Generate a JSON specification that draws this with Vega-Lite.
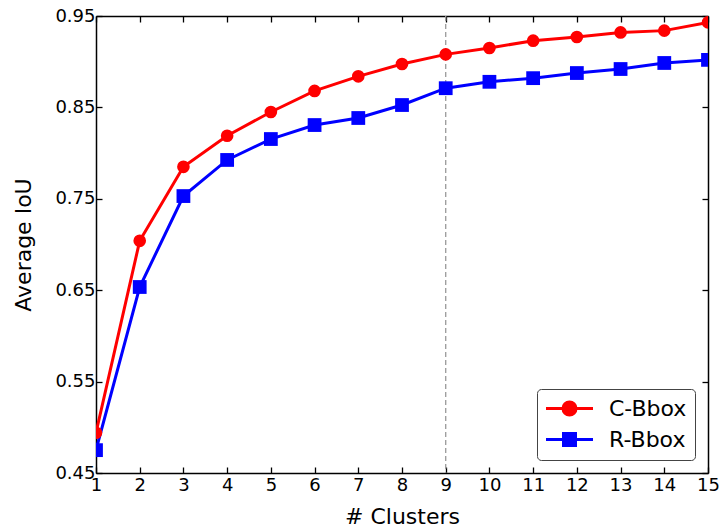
{
  "$schema": "https://vega.github.io/schema/vega-lite/v6.json",
  "width": 612,
  "height": 457,
  "autosize": {"type": "none"},
  "padding": {"left": 96, "top": 16, "right": 14, "bottom": 59},
  "background": "white",
  "config": {
    "view": {"stroke": null},
    "font": "DejaVu Sans",
    "axis": {
      "domainColor": "black", "domainWidth": 1.5, "tickColor": "black", "tickWidth": 1.3,
      "tickSize": -6, "labelFontSize": 18, "labelColor": "black", "titleFontSize": 22,
      "titleColor": "black", "titleFontWeight": "normal", "grid": false, "labelFont": "DejaVu Sans", "titleFont": "DejaVu Sans"
    }
  },
  "data": {"values": [
    {"clusters": 1, "iou": 0.494, "method": "C-Bbox"},
    {"clusters": 2, "iou": 0.704, "method": "C-Bbox"},
    {"clusters": 3, "iou": 0.785, "method": "C-Bbox"},
    {"clusters": 4, "iou": 0.819, "method": "C-Bbox"},
    {"clusters": 5, "iou": 0.845, "method": "C-Bbox"},
    {"clusters": 6, "iou": 0.868, "method": "C-Bbox"},
    {"clusters": 7, "iou": 0.884, "method": "C-Bbox"},
    {"clusters": 8, "iou": 0.8975, "method": "C-Bbox"},
    {"clusters": 9, "iou": 0.908, "method": "C-Bbox"},
    {"clusters": 10, "iou": 0.915, "method": "C-Bbox"},
    {"clusters": 11, "iou": 0.923, "method": "C-Bbox"},
    {"clusters": 12, "iou": 0.927, "method": "C-Bbox"},
    {"clusters": 13, "iou": 0.932, "method": "C-Bbox"},
    {"clusters": 14, "iou": 0.934, "method": "C-Bbox"},
    {"clusters": 15, "iou": 0.943, "method": "C-Bbox"},
    {"clusters": 1, "iou": 0.475, "method": "R-Bbox"},
    {"clusters": 2, "iou": 0.6535, "method": "R-Bbox"},
    {"clusters": 3, "iou": 0.753, "method": "R-Bbox"},
    {"clusters": 4, "iou": 0.7925, "method": "R-Bbox"},
    {"clusters": 5, "iou": 0.8154, "method": "R-Bbox"},
    {"clusters": 6, "iou": 0.8307, "method": "R-Bbox"},
    {"clusters": 7, "iou": 0.8384, "method": "R-Bbox"},
    {"clusters": 8, "iou": 0.8526, "method": "R-Bbox"},
    {"clusters": 9, "iou": 0.871, "method": "R-Bbox"},
    {"clusters": 10, "iou": 0.878, "method": "R-Bbox"},
    {"clusters": 11, "iou": 0.882, "method": "R-Bbox"},
    {"clusters": 12, "iou": 0.8876, "method": "R-Bbox"},
    {"clusters": 13, "iou": 0.892, "method": "R-Bbox"},
    {"clusters": 14, "iou": 0.8986, "method": "R-Bbox"},
    {"clusters": 15, "iou": 0.902, "method": "R-Bbox"}
  ]},
  "resolve": {"axis": {"x": "independent", "y": "independent"}},
  "layer": [
    {
      "data": {"values": [{"clusters": 9}]},
      "mark": {"type": "rule", "color": "#999999", "strokeWidth": 1.3, "strokeDash": [5, 3]},
      "encoding": {
        "x": {"field": "clusters", "type": "quantitative", "scale": {"domain": [1, 15], "nice": false, "zero": false},
          "axis": {"orient": "bottom", "values": [1,2,3,4,5,6,7,8,9,10,11,12,13,14,15], "labelPadding": 9, "title": "# Clusters", "titlePadding": 12, "labelFlush": false}}
      }
    },
    {
      "mark": {"type": "line", "strokeWidth": 3, "clip": true},
      "encoding": {
        "x": {"field": "clusters", "type": "quantitative", "scale": {"domain": [1, 15], "nice": false, "zero": false},
          "axis": {"orient": "top", "values": [1,2,3,4,5,6,7,8,9,10,11,12,13,14,15], "labels": false, "title": null}},
        "y": {"field": "iou", "type": "quantitative", "scale": {"domain": [0.45, 0.95], "nice": false, "zero": false},
          "axis": {"orient": "left", "values": [0.45, 0.55, 0.65, 0.75, 0.85, 0.95], "format": ".2f", "labelPadding": 7, "title": "Average IoU", "titlePadding": 19, "labelFlush": false}},
        "color": {"field": "method", "type": "nominal", "scale": {"domain": ["C-Bbox", "R-Bbox"], "range": ["#ff0000", "#0000ff"]},
          "legend": {
            "orient": "none", "legendX": 441, "legendY": 373, "title": null,
            "fillColor": "white", "strokeColor": "#444444", "cornerRadius": 4, "padding": 8,
            "labelFontSize": 22, "labelColor": "black", "labelOffset": 41, "rowPadding": 6, "symbolSize": 400,
            "encode": {
              "symbols": {"update": {
                "shape": {"signal": "datum.value === 'C-Bbox' ? 'M-1.05,0H3.65M0.65,0A0.65,0.65,0,1,1,1.95,0A0.65,0.65,0,1,1,0.65,0Z' : 'M-1.05,0H3.65M0.7,-0.6H1.9V0.6H0.7Z'"},
                "fill": {"signal": "datum.value === 'C-Bbox' ? '#ff0000' : '#0000ff'"},
                "strokeWidth": {"value": 3},
                "opacity": {"value": 1},
                "fillOpacity": {"value": 1},
                "strokeOpacity": {"value": 1},
                "size": {"value": 400}
              }}
            }
          }}
      }
    },
    {
      "transform": [{"filter": "datum.method === 'C-Bbox'"}],
      "mark": {"type": "point", "filled": true, "opacity": 1, "clip": true, "shape": "circle", "size": 160, "color": "#ff0000"},
      "encoding": {
        "x": {"field": "clusters", "type": "quantitative", "axis": null},
        "y": {"field": "iou", "type": "quantitative",
          "axis": {"orient": "right", "values": [0.45, 0.55, 0.65, 0.75, 0.85, 0.95], "labels": false, "title": null}}
      }
    },
    {
      "transform": [{"filter": "datum.method === 'R-Bbox'"}],
      "mark": {"type": "point", "filled": true, "opacity": 1, "clip": true, "shape": "square", "size": 190, "color": "#0000ff"},
      "encoding": {
        "x": {"field": "clusters", "type": "quantitative", "axis": null},
        "y": {"field": "iou", "type": "quantitative", "axis": null}
      }
    }
  ]
}
